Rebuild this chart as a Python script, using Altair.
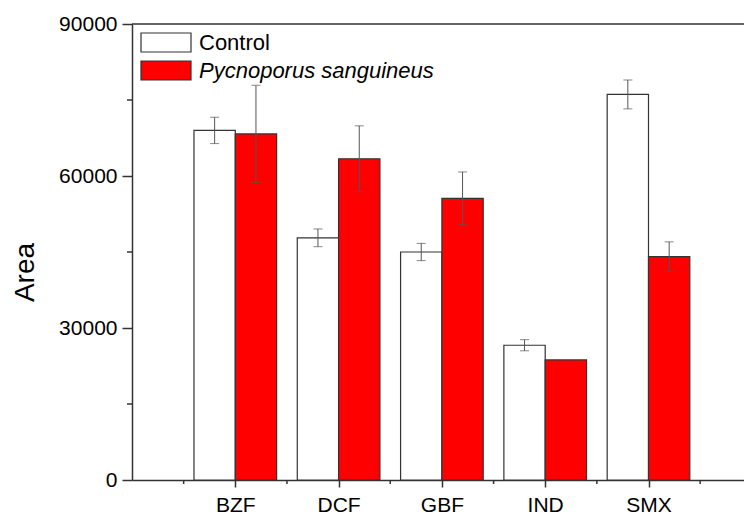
import altair as alt
import pandas as pd

# Peak areas per compound, with standard deviations
categories = ["BZF", "DCF", "GBF", "IND", "SMX"]
series = ["Control", "Pycnoporus sanguineus"]
control_mean = [69000, 47800, 45000, 26600, 76100]
control_err = [2600, 1750, 1700, 1100, 2850]
pycno_mean = [68300, 63400, 55600, 23700, 44100]
pycno_err = [9600, 6500, 5200, 0, 2900]

y_ticks = [0, 30000, 60000, 90000]
y_minor = [15000, 45000, 75000]
x_minor = [0.5, 1.5, 2.5, 3.5, 4.5, 5.5]

FONT = "Liberation Sans"
AXIS_COLOR = "#333333"
W, H = 612, 456
BAR_W = 0.4

rows = []
for i, cat in enumerate(categories):
    rows.append({"category": cat, "pos": i + 1, "side": 0, "series": series[0],
                 "mean": control_mean[i], "err": control_err[i]})
    rows.append({"category": cat, "pos": i + 1, "side": 1, "series": series[1],
                 "mean": pycno_mean[i], "err": pycno_err[i]})
df = pd.DataFrame(rows)

base = alt.Chart(df).transform_calculate(
    left=f"datum.pos + (datum.side - 1) * {BAR_W}",
    right=f"datum.pos + datum.side * {BAR_W}",
    mid=f"datum.pos + (datum.side - 0.5) * {BAR_W}",
    lo="datum.mean - datum.err",
    hi="datum.mean + datum.err",
)

x_scale = alt.Scale(domain=[0, W / 103.3], nice=False, zero=False)
y_scale = alt.Scale(domain=[y_ticks[0], y_ticks[-1]], nice=False)

label_expr = "[''," + ",".join(f"'{c}'" for c in categories) + "][datum.value]"

bars = base.mark_bar(stroke=AXIS_COLOR, strokeWidth=1.2).encode(
    x=alt.X("left:Q", scale=x_scale,
            axis=alt.Axis(values=list(range(1, len(categories) + 1)), labelExpr=label_expr,
                          title=None, grid=False, tickSize=7, labelPadding=7)),
    x2="right:Q",
    y=alt.Y("mean:Q", scale=y_scale,
            axis=alt.Axis(values=y_ticks, format="d", grid=False, tickSize=10,
                          labelPadding=5, title="Area", titleFontSize=28,
                          titleFontWeight="normal", titleAngle=270,
                          titleBaseline="alphabetic", titleAlign="center",
                          titleX=-99, titleY=248)),
    y2=alt.datum(0),
    fill=alt.Fill("series:N", scale=alt.Scale(domain=series, range=["#ffffff", "#ff0000"]),
                  legend=None),
)

err_base = base.transform_filter("datum.err > 0")
err_line = err_base.mark_rule(color="#555555", strokeWidth=1).encode(
    x="mid:Q", y="lo:Q", y2="hi:Q")
cap_lo = err_base.mark_tick(orient="horizontal", size=9, thickness=1, color="#555555").encode(
    x="mid:Q", y="lo:Q")
cap_hi = err_base.mark_tick(orient="horizontal", size=9, thickness=1, color="#555555").encode(
    x="mid:Q", y="hi:Q")

# Top frame line and minor ticks
top_line = alt.Chart(pd.DataFrame({"v": [y_ticks[-1]]})).mark_rule(
    color=AXIS_COLOR, strokeWidth=1.5).encode(y="v:Q", x=alt.value(0), x2=alt.value(W))
x_minor_ticks = alt.Chart(pd.DataFrame({"v": x_minor})).mark_rule(
    color=AXIS_COLOR, strokeWidth=1.5).encode(x="v:Q", y=alt.value(H), y2=alt.value(H + 4))
y_minor_ticks = alt.Chart(pd.DataFrame({"v": y_minor})).mark_rule(
    color=AXIS_COLOR, strokeWidth=1.5).encode(y="v:Q", x=alt.value(-5), x2=alt.value(0))

# Legend entries
legend_layers = []
fills = ["#ffffff", "#ff0000"]
styles = ["normal", "italic"]
for i, name in enumerate(series):
    top = 9 + 28 * i
    one = alt.Chart(pd.DataFrame({"label": [name]}))
    legend_layers.append(one.mark_rect(fill=fills[i], stroke=AXIS_COLOR, strokeWidth=1.2).encode(
        x=alt.value(9), x2=alt.value(59), y=alt.value(top), y2=alt.value(top + 19)))
    legend_layers.append(one.mark_text(align="left", baseline="middle", fontSize=22,
                                       font=FONT, fontStyle=styles[i], color="black").encode(
        x=alt.value(67), y=alt.value(top + 10), text="label:N"))

chart = alt.layer(
    bars, err_line, cap_lo, cap_hi, top_line, x_minor_ticks, y_minor_ticks, *legend_layers
).properties(
    width=W, height=H,
    padding={"left": 132, "top": 24, "right": 0, "bottom": 36},
    autosize="none",
).configure_view(stroke=None).configure_axis(
    labelFont=FONT, titleFont=FONT, labelFontSize=21, labelColor="black", titleColor="black",
    domainColor=AXIS_COLOR, domainWidth=1.5, tickColor=AXIS_COLOR, tickWidth=1.5,
)

chart.save("out.html", embed_options={"renderer": "svg", "actions": False})
